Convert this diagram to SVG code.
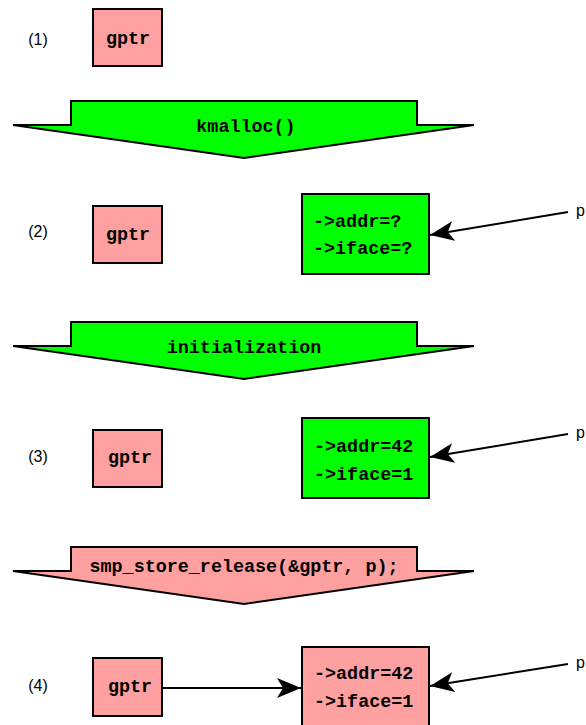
<svg xmlns="http://www.w3.org/2000/svg" width="586" height="725" viewBox="0 0 586 725">
<defs>
<style>
.pink{fill:#ffa0a0;stroke:#000;stroke-width:2}
.green{fill:#00ff00;stroke:#000;stroke-width:2}
.mono{font-family:"Liberation Mono",monospace;font-weight:bold;font-size:18.4px;fill:#000}
.lbl{font-family:"Liberation Sans",Arial,sans-serif;font-size:16px;fill:#000}
.conn{stroke:#000;stroke-width:2;fill:none}
</style>
<marker id="ah" viewBox="0 0 24 20" refX="24" refY="10" markerWidth="24" markerHeight="20" markerUnits="userSpaceOnUse" orient="auto">
<path d="M0,0 L24,10 L0,20 L6,10 Z" fill="#000"/>
</marker>
</defs>
<text class="lbl" x="38" y="45" text-anchor="middle">(1)</text>
<text class="lbl" x="38" y="237" text-anchor="middle">(2)</text>
<text class="lbl" x="38" y="462" text-anchor="middle">(3)</text>
<text class="lbl" x="38" y="691" text-anchor="middle">(4)</text>
<g id="gptr1"><rect class="pink" x="93" y="9" width="69" height="57"/><text class="mono" x="128" y="44" text-anchor="middle">gptr</text></g>
<g id="step1"><path class="green" d="M71,101 L417,101 L417,125 L474,125 L244,158 L13,125 L71,125 Z"/><text class="mono" x="246" y="132" text-anchor="middle">kmalloc()</text></g>
<g id="gptr2"><rect class="pink" x="93" y="206" width="69" height="57"/><text class="mono" x="128" y="240" text-anchor="middle">gptr</text></g>
<g id="obj2"><rect class="green" x="302" y="194" width="127" height="80"/><text class="mono" x="313" y="227">-&gt;addr=?</text><text class="mono" x="313" y="254">-&gt;iface=?</text></g>
<text class="lbl" x="576" y="216">p</text>
<g id="step2"><path class="green" d="M71,322 L417,322 L417,346 L474,346 L244,379 L13,346 L71,346 Z"/><text class="mono" x="244" y="353" text-anchor="middle">initialization</text></g>
<g id="gptr3"><rect class="pink" x="93" y="430" width="69" height="57"/><text class="mono" x="130" y="463" text-anchor="middle">gptr</text></g>
<g id="obj3"><rect class="green" x="302" y="418" width="127" height="80"/><text class="mono" x="314" y="452">-&gt;addr=42</text><text class="mono" x="314" y="480">-&gt;iface=1</text></g>
<text class="lbl" x="576" y="438">p</text>
<g id="step3"><path class="pink" d="M71,547 L417,547 L417,571 L474,571 L244,604 L13,571 L71,571 Z"/><text class="mono" x="244" y="572" text-anchor="middle">smp_store_release(&amp;gptr, p);</text></g>
<g id="gptr4"><rect class="pink" x="93" y="658" width="69" height="58"/><text class="mono" x="130" y="692" text-anchor="middle">gptr</text></g>
<g id="obj4"><rect class="pink" x="302" y="647" width="127" height="82"/><text class="mono" x="314" y="679">-&gt;addr=42</text><text class="mono" x="314" y="707">-&gt;iface=1</text></g>
<text class="lbl" x="576" y="668">p</text>
<g id="connectors">
<line class="conn" x1="568" y1="212" x2="430" y2="235" marker-end="url(#ah)"/>
<line class="conn" x1="568" y1="434" x2="430" y2="457" marker-end="url(#ah)"/>
<line class="conn" x1="568" y1="664" x2="430" y2="686" marker-end="url(#ah)"/>
<line class="conn" x1="162" y1="688" x2="301" y2="688" marker-end="url(#ah)"/>
</g>
</svg>
